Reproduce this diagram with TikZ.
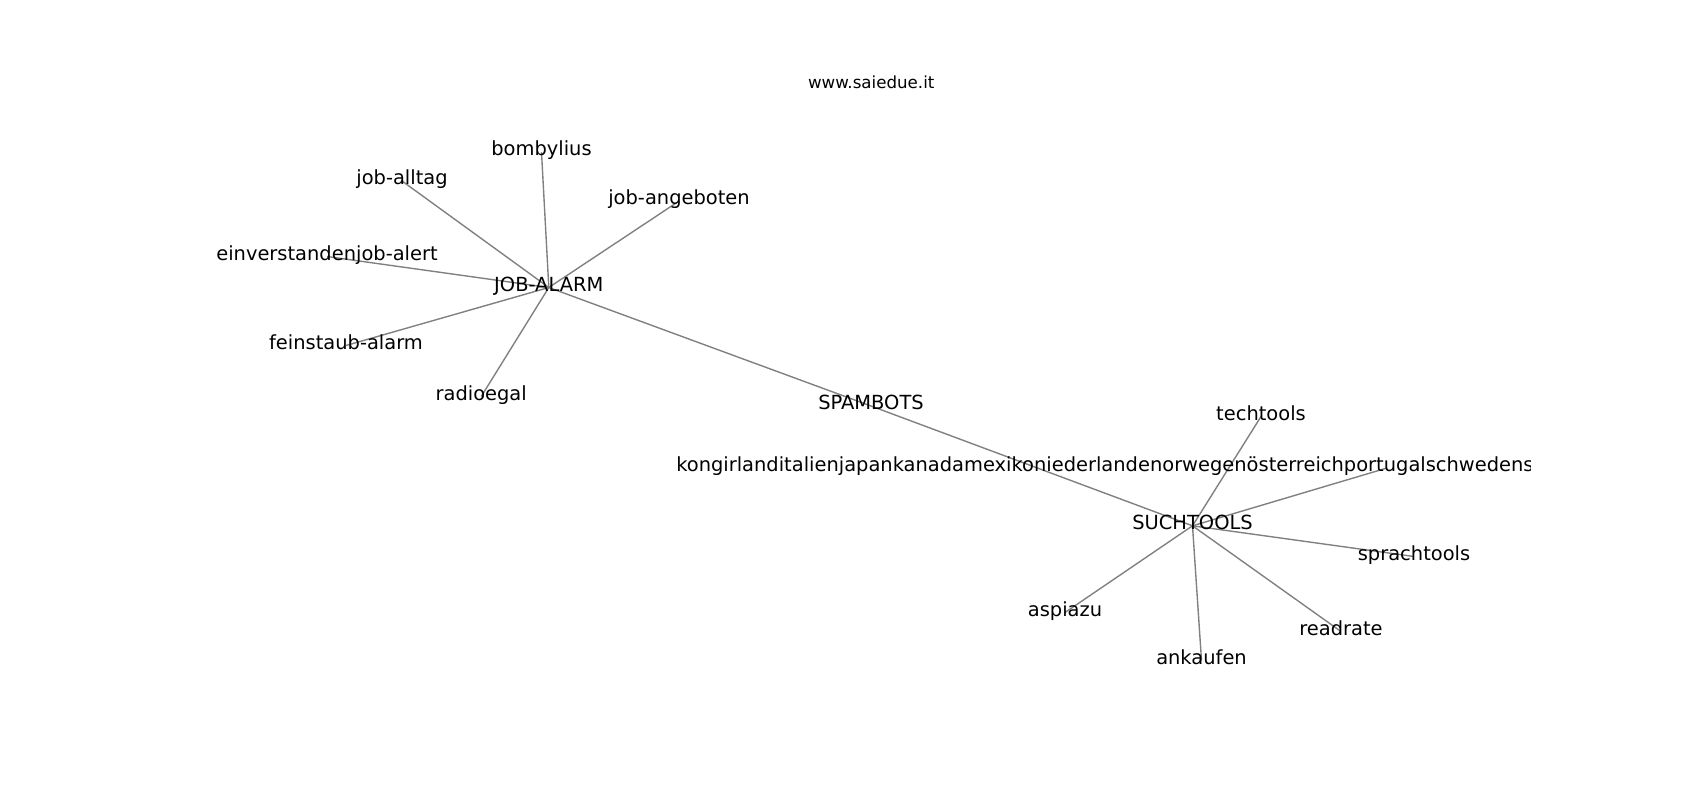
\documentclass[tikz,border=0pt]{standalone}
\usepackage{fontspec}
\setmainfont{DejaVu Sans}
\usetikzlibrary{backgrounds}

\begin{document}
\begin{tikzpicture}[x=0.72pt, y=-0.72pt,
            word/.style = {inner sep=0, font=\fontsize{14}{16}\selectfont,
                text height=0.76em, text depth=0.208em},
            heading/.style = {anchor=base, font=\fontsize{12}{14}\selectfont},
            every edge/.style = {draw=gray, line width=1pt}]
            \useasboundingbox (0,0) rectangle (1700,800);
            \node[heading](title) at (871.25,88.7) {www.saiedue.it};
            \begin{scope}
            \clip (212.5,96) rectangle (1530,712);
            \node[word](jobalarm) at (548.8,287.5) {JOB-ALARM};
            \node[word](bombylius) at (541.5,152.1) {bombylius};
            \node[word](joballtag) at (402,181) {job-alltag};
            \node[word](jobangeboten) at (679,201.1) {job-angeboten};
            \node[word](einverstanden) at (327,256.5) {einverstandenjob-alert};
            \node[word](feinstaub) at (346,345.5) {feinstaub-alarm};
            \node[word](radioegal) at (481.2,396.5) {radioegal};
            \node[word](spambots) at (871,406) {SPAMBOTS};
            \node[word](suchtools) at (1192.5,525.8) {SUCHTOOLS};
            \node[word](techtools) at (1261,416.5) {techtools};
            \coordinate (laenderpos) at (1387,468);
            \node[word,anchor=west](laender) at (676,468)
                {kongirlanditalienjapankanadamexikoniederlandenorwegenösterreichportugalschwedens};
            \node[word](sprachtools) at (1414,556.5) {sprachtools};
            \node[word](readrate) at (1341,631.5) {readrate};
            \node[word](ankaufen) at (1201.5,660.5) {ankaufen};
            \node[word](aspiazu) at (1065,612.5) {aspiazu};
            \end{scope}
            \begin{pgfonlayer}{background}
            \path
                (jobalarm.center) edge (bombylius.center)
                (jobalarm.center) edge (joballtag.center)
                (jobalarm.center) edge (jobangeboten.center)
                (jobalarm.center) edge (einverstanden.center)
                (jobalarm.center) edge (feinstaub.center)
                (jobalarm.center) edge (radioegal.center)
                (jobalarm.center) edge (spambots.center)
                (spambots.center) edge (suchtools.center)
                (suchtools.center) edge (techtools.center)
                (suchtools.center) edge (laenderpos)
                (suchtools.center) edge (sprachtools.center)
                (suchtools.center) edge (readrate.center)
                (suchtools.center) edge (ankaufen.center)
                (suchtools.center) edge (aspiazu.center);
            \end{pgfonlayer}
\end{tikzpicture}
\end{document}
